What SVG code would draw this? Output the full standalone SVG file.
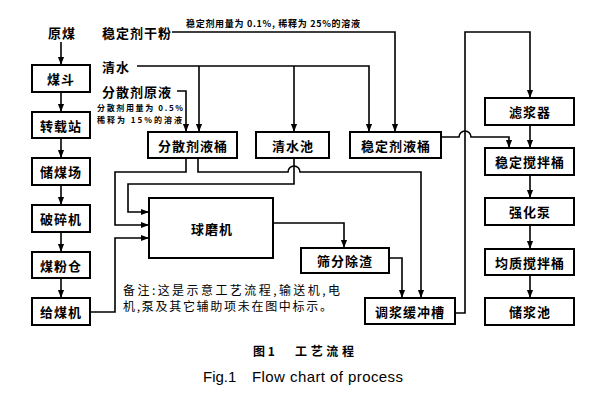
<svg xmlns="http://www.w3.org/2000/svg" width="589" height="406" viewBox="0 0 589 406">
<defs>
<marker id="ah" viewBox="0 0 10 10" refX="10" refY="5" markerWidth="8" markerHeight="8" markerUnits="userSpaceOnUse" orient="auto"><path d="M0,1.2 L10,5 L0,8.8 Z" fill="#000"/></marker>
<style>
.box{fill:#fff;stroke:#000;stroke-width:2}
.lbl{font-family:"Noto Sans CJK SC",sans-serif;font-size:13px;font-weight:bold;text-anchor:middle;dominant-baseline:central;letter-spacing:1px;fill:#000}
.src{font-family:"Noto Sans CJK SC",sans-serif;font-size:13px;font-weight:bold;dominant-baseline:central;letter-spacing:1px;fill:#000}
.sm{font-family:"Noto Sans CJK SC",sans-serif;font-size:9px;font-weight:bold;dominant-baseline:central;fill:#000}
.sm2{font-family:"Noto Sans CJK SC",sans-serif;font-size:8px;font-weight:bold;dominant-baseline:central;fill:#000}
.note{font-family:"Noto Sans CJK SC",sans-serif;font-size:12px;dominant-baseline:central;fill:#000}
.ln{fill:none;stroke:#000;stroke-width:1.6}
.arr{marker-end:url(#ah)}
</style>
</defs>
<rect width="589" height="406" fill="#fff"/>

<g id="connectors">
<path class="ln arr" d="M61,42 V65"/>
<path class="ln arr" d="M61,92 V112"/>
<path class="ln arr" d="M61,138 V158"/>
<path class="ln arr" d="M61,185 V205"/>
<path class="ln arr" d="M61,232 V252"/>
<path class="ln arr" d="M61,278 V298"/>
<path class="ln arr" d="M90,312 H115 V238 H149"/>
<path class="ln arr" d="M172,32 H395 V132"/>
<path class="ln arr" d="M137,66 H369 V132"/>
<path class="ln arr" d="M199,66 V132"/>
<path class="ln arr" d="M294,66 V132"/>
<path class="ln arr" d="M177,91 H186 V132"/>
<path class="ln arr" d="M186,158 V172 H115 V225 H149"/>
<path class="ln arr" d="M198,158 V172 H288 A6,6 0 0 1 300,172 H421 V298"/>
<path class="ln arr" d="M294,158 V184 H128 V212 H149"/>
<path class="ln arr" d="M273,223 H344 V248"/>
<path class="ln arr" d="M389,258 H402 V298"/>
<path class="ln arr" d="M455,313 H465 V32 H530 V98"/>
<path class="ln arr" d="M441,137 H459 A6,6 0 0 1 471,137 H509 V148"/>
<path class="ln arr" d="M530,125 V148"/>
<path class="ln arr" d="M530,175 V198"/>
<path class="ln arr" d="M530,225 V249"/>
<path class="ln arr" d="M530,275 V298"/>
</g>

<g id="n-yuanmei"><text class="lbl" x="62" y="32">原煤</text></g>
<g id="n-wendingganfen"><text class="src" x="102" y="32">稳定剂干粉</text></g>
<g id="n-qingshui"><text class="src" x="102" y="66">清水</text></g>
<g id="n-fensanyuanye"><text class="src" x="102" y="91">分散剂原液</text></g>

<text class="sm" x="186" y="23" textLength="174" lengthAdjust="spacing">稳定剂用量为 0.1%, 稀释为 25%的溶液</text>
<text class="sm2" x="97" y="107" textLength="86" lengthAdjust="spacing">分散剂用量为 0.5%</text>
<text class="sm2" x="97" y="119.5" textLength="85" lengthAdjust="spacing">稀释为 15%的溶液</text>

<g id="n-meidou"><rect class="box" x="32" y="65" width="58" height="27"/><text class="lbl" x="61" y="78.5">煤斗</text></g>
<g id="n-zhuanzaizhan"><rect class="box" x="32" y="112" width="58" height="26"/><text class="lbl" x="61" y="125">转载站</text></g>
<g id="n-chumeichang"><rect class="box" x="32" y="158" width="58" height="27"/><text class="lbl" x="61" y="171.5">储煤场</text></g>
<g id="n-posuiji"><rect class="box" x="32" y="205" width="58" height="27"/><text class="lbl" x="61" y="218.5">破碎机</text></g>
<g id="n-meifencang"><rect class="box" x="32" y="252" width="58" height="26"/><text class="lbl" x="61" y="265">煤粉仓</text></g>
<g id="n-geimeiji"><rect class="box" x="32" y="298" width="58" height="27"/><text class="lbl" x="61" y="311.5">给煤机</text></g>

<g id="n-fensanyetong"><rect class="box" x="148" y="132" width="89" height="26"/><text class="lbl" x="193" y="145">分散剂液桶</text></g>
<g id="n-qingshuichi"><rect class="box" x="256" y="132" width="73" height="26"/><text class="lbl" x="293" y="145">清水池</text></g>
<g id="n-wendingyetong"><rect class="box" x="350" y="132" width="91" height="26"/><text class="lbl" x="396" y="145">稳定剂液桶</text></g>
<g id="n-qiumoji"><rect class="box" x="149" y="198" width="124" height="60"/><text class="lbl" x="212" y="228">球磨机</text></g>
<g id="n-shaifen"><rect class="box" x="301" y="248" width="88" height="25"/><text class="lbl" x="345" y="260.5">筛分除渣</text></g>
<g id="n-tiaojiang"><rect class="box" x="365" y="298" width="90" height="26"/><text class="lbl" x="410" y="311">调浆缓冲槽</text></g>
<g id="n-lvjiangqi"><rect class="box" x="485" y="98" width="89" height="27"/><text class="lbl" x="530" y="111.5">滤浆器</text></g>
<g id="n-wendingjiaoban"><rect class="box" x="485" y="148" width="89" height="27"/><text class="lbl" x="530" y="161.5">稳定搅拌桶</text></g>
<g id="n-qianghuabeng"><rect class="box" x="485" y="198" width="89" height="27"/><text class="lbl" x="530" y="211.5">强化泵</text></g>
<g id="n-junzhi"><rect class="box" x="485" y="249" width="89" height="26"/><text class="lbl" x="530" y="262">均质搅拌桶</text></g>
<g id="n-chujiangchi"><rect class="box" x="485" y="298" width="89" height="27"/><text class="lbl" x="530" y="311.5">储浆池</text></g>

<text class="note" x="123" y="289" textLength="217" lengthAdjust="spacing">备注:这是示意工艺流程,输送机,电</text>
<text class="note" x="123" y="305" textLength="209" lengthAdjust="spacing">机,泵及其它辅助项未在图中标示。</text>

<text x="253" y="350" font-family="'Noto Sans CJK SC',sans-serif" font-size="12" font-weight="bold" dominant-baseline="central">图 1</text>
<text x="295" y="350" font-family="'Noto Sans CJK SC',sans-serif" font-size="12" font-weight="bold" dominant-baseline="central" textLength="59" lengthAdjust="spacing">工艺流程</text>
<text x="203" y="382" font-family="'Liberation Sans',Arial,sans-serif" font-size="15">Fig.1</text>
<text x="252" y="382" font-family="'Liberation Sans',Arial,sans-serif" font-size="15" textLength="151" lengthAdjust="spacing">Flow chart of process</text>
</svg>
